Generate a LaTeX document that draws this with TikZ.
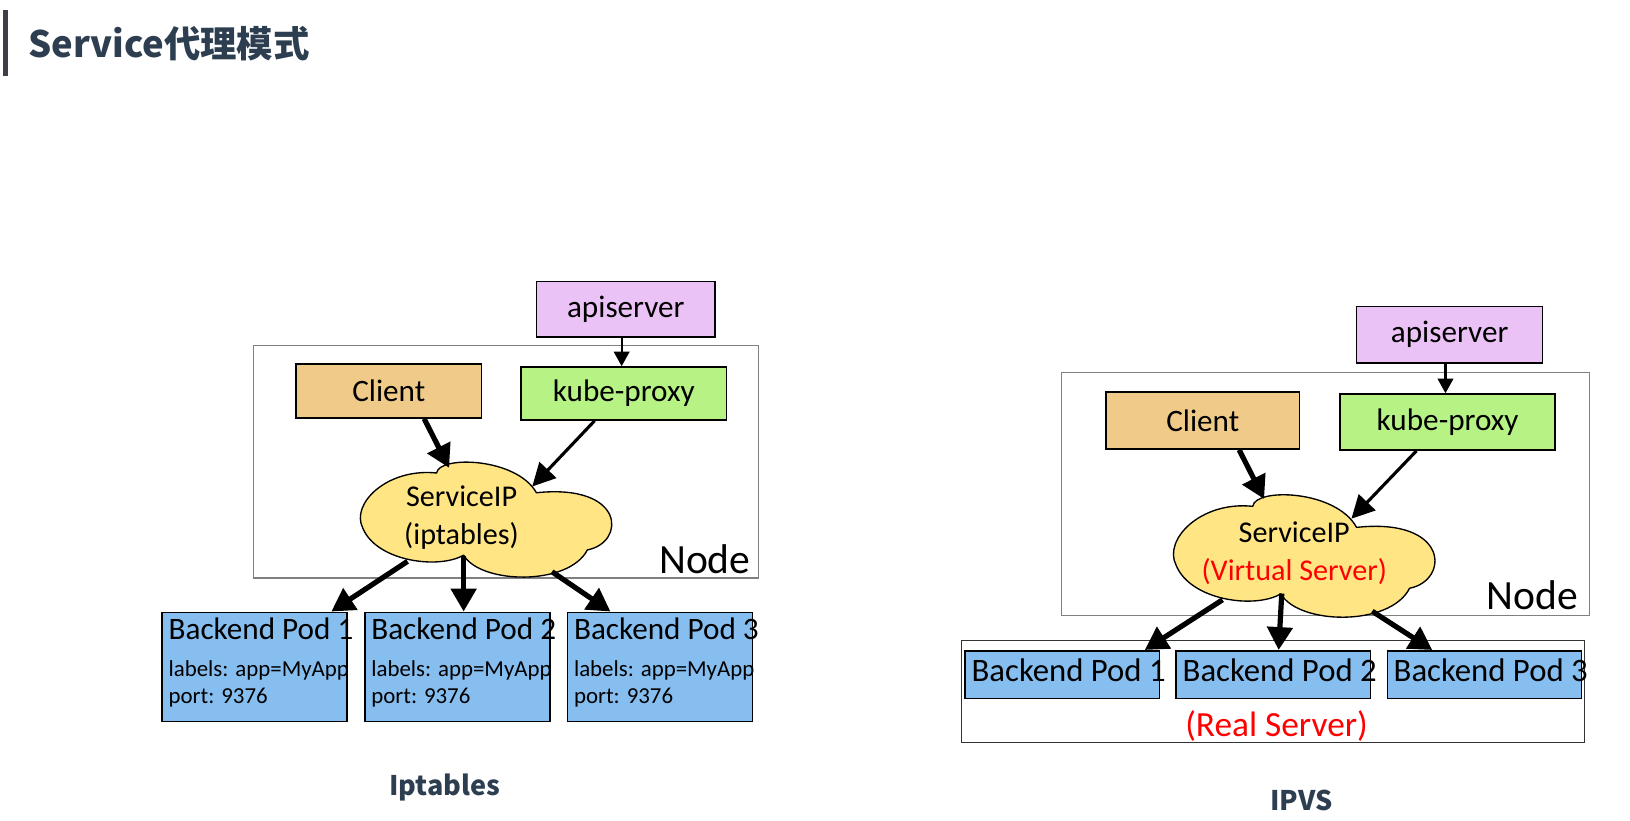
\documentclass[tikz,border=0pt]{standalone}
\usepackage{fontspec}
\setmainfont{Carlito}
\newfontfamily\cjk{Noto Sans CJK SC}
\usetikzlibrary{arrows.meta, calc, positioning}
\definecolor{apicol}{HTML}{EBC2F5}
\definecolor{clientcol}{HTML}{F0CA88}
\definecolor{proxycol}{HTML}{B6F284}
\definecolor{cloudcol}{HTML}{FFE584}
\definecolor{podcol}{HTML}{87BEF0}
\definecolor{titlecol}{HTML}{2C3E50}
\definecolor{barcol}{HTML}{3E4049}
\tikzstyle{boxb}=[shape=rectangle, draw=black, line width=1.5pt, inner sep=0pt, font=\fontsize{30}{36}\selectfont]
\tikzstyle{podbox}=[shape=rectangle, draw=black, line width=1.5pt, fill=podcol, inner sep=0pt]
\tikzstyle{cloudy}=[draw=black, line width=1.3pt, fill=cloudcol, line join=round]
\tikzstyle{cloudtxt}=[inner sep=0pt, align=center, font=\fontsize{29}{36}\selectfont]
\tikzstyle{arrthick}=[line width=5pt, -{Triangle[length=22pt,width=24pt]}]
\tikzstyle{arrmid}=[line width=3pt, -{Triangle[length=22pt,width=22pt]}]
\tikzstyle{arrthin}=[line width=2pt, -{Triangle[length=14pt,width=15pt]}]
\tikzstyle{nodebox}=[draw=black!50, line width=1.2pt]
\tikzstyle{podtxt}=[anchor=base west, inner sep=0pt, font=\fontsize{30}{36}\selectfont]
\tikzstyle{smalltxt}=[anchor=base west, inner sep=0pt, font=\fontsize{22}{26}\selectfont]
\tikzstyle{bigtxt}=[inner sep=0pt, font=\fontsize{40}{46}\selectfont]
\tikzstyle{captxt}=[inner sep=0pt, text=titlecol, font=\cjk\bfseries\fontsize{26}{30}\selectfont]
% cloud outline, four puffs round the origin
\tikzset{puffcloud/.pic={
\draw[cloudy] (-47,-45) .. controls (-95,-50) and (-130,-15) .. (-118,8)
  .. controls (-105,40) and (-45,48) .. (-21,34)
  .. controls (-5,62) and (80,64) .. (98,29)
  .. controls (135,22) and (135,-35) .. (49,-26)
  .. controls (30,-60) and (-45,-62) .. (-47,-45) -- cycle;
}}
\begin{document}
\begin{tikzpicture}[x=1pt,y=-1pt]
\useasboundingbox (0,0) rectangle (1568,789);
% title
\fill[barcol] (3,10) rectangle (8,73);
\node[anchor=west, inner sep=0pt, text=titlecol, font=\cjk\bfseries\fontsize{35}{40}\selectfont] (title) at (27,42) {Service代理模式};
%Iptables side
\draw[nodebox] (244,332) rectangle (730,556);
\node[boxb, fill=apicol, minimum width=172pt, minimum height=53pt] (api1) at (602,297.5) {apiserver};
\node[boxb, fill=clientcol, minimum width=178pt, minimum height=52pt] (cli1) at (374,376) {Client};
\node[boxb, fill=proxycol, minimum width=198pt, minimum height=51pt] (prox1) at (600,378.5) {kube-proxy};
\coordinate (cloud1) at (467,500);
\pic at (cloud1) {puffcloud};
\node[cloudtxt] (cloud1t) at (444,498) {ServiceIP\\(iptables)};
\node[bigtxt] (node1) at (678,538) {Node};
\foreach \i in {1,2,3}{
\node[podbox, minimum width=178pt, minimum height=105pt] (lp\i) at ({50+195*\i},641.5) {};
\node[podtxt] (lpa\i) at ({-33+195*\i},615) {Backend Pod \i};
\node[smalltxt] (lpb\i) at ({-33+195*\i},651) {labels: app=MyApp};
\node[smalltxt] (lpc\i) at ({-33+195*\i},677) {port: 9376};
}
\draw[arrthin] ([xshift=-2pt]prox1.north |- api1.south) -- ([xshift=-2pt]prox1.north);
\draw[arrthick] ([xshift=34pt]cli1.south) -- ($(cloud1)+(-35,-50)$);
\draw[arrmid] ([xshift=-28pt]prox1.south) -- ($(cloud1)+(45,-32)$);
\draw[arrthick] ($(cloud1)+(-75,40)$) -- ([xshift=-16pt]lp1.north east);
\draw[arrthick] ($(cloud1)+(-21,35)$) -- ([xshift=6pt]lp2.north);
\draw[arrthick] ($(cloud1)+(64,50)$) -- ([xshift=42pt]lp3.north west);
\node[captxt] (cap1) at (428,758) {Iptables};
%IPVS side
\draw[nodebox] (1021,358) rectangle (1529,592);
\draw[draw=black!80, line width=1pt] (925,616) rectangle (1524,714);
\node[boxb, fill=apicol, minimum width=179pt, minimum height=54pt] (api2) at (1394.5,322) {apiserver};
\node[boxb, fill=clientcol, minimum width=186pt, minimum height=55pt] (cli2) at (1157,404.5) {Client};
\node[boxb, fill=proxycol, minimum width=207pt, minimum height=54pt] (prox2) at (1392.5,406) {kube-proxy};
\coordinate (cloud2) at (1254,535);
\pic[xscale=1.04, yscale=1.065] at (cloud2) {puffcloud};
\node[cloudtxt] (cloud2t) at (1245,532) {ServiceIP\\\textcolor{red}{(Virtual Server)}};
\node[bigtxt] (node2) at (1474,573) {Node};
\foreach \i in {1,2,3}{
\node[podbox, minimum width=187pt, minimum height=46pt] (rp\i) at ({819+203*\i},649) {};
\node[podtxt, font=\fontsize{31.5}{36}\selectfont] (rpa\i) at ({731.5+203*\i},656) {Backend Pod \i};
}
\node[inner sep=0pt, text=red, font=\fontsize{34}{38}\selectfont] (real) at (1228,698) {(Real Server)};
\draw[arrthin] ([xshift=-2pt]prox2.north |- api2.south) -- ([xshift=-2pt]prox2.north);
\draw[arrthick] ([xshift=35pt]cli2.south) -- ($(cloud2)+(-38,-55)$);
\draw[arrmid] ([xshift=-30pt]prox2.south) -- ($(cloud2)+(46,-36)$);
\draw[arrthick] ($(cloud2)+(-78,42)$) -- ([xshift=-15pt]rp1.north east);
\draw[arrthick] ($(cloud2)+(-21,36)$) -- ([xshift=5pt]rp2.north);
\draw[arrthick] ($(cloud2)+(66,53)$) -- ([xshift=44pt]rp3.north west);
\node[captxt] (cap2) at (1252,770) {IPVS};
\end{tikzpicture}
\end{document}
